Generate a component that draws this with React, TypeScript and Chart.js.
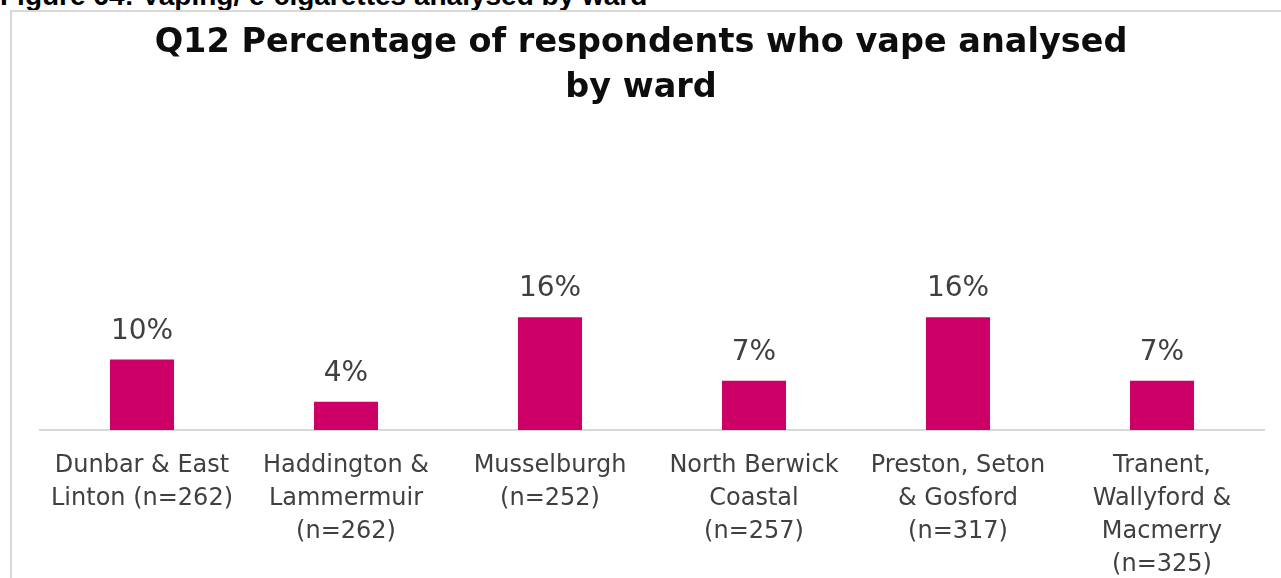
import React, { useEffect, useRef } from "react";
import { Chart, registerables } from "chart.js";

Chart.register(...registerables);

const categories: string[][] = [
  ["Dunbar & East", "Linton (n=262)"],
  ["Haddington &", "Lammermuir", "(n=262)"],
  ["Musselburgh", "(n=252)"],
  ["North Berwick", "Coastal", "(n=257)"],
  ["Preston, Seton", "& Gosford", "(n=317)"],
  ["Tranent,", "Wallyford &", "Macmerry", "(n=325)"],
];
const vapePercent: number[] = [10, 4, 16, 7, 16, 7];
const titleLines: string[] = ["Q12 Percentage of respondents who vape analysed", "by ward"];
const captionText = "Figure 64: Vaping/ e-cigarettes analysed by ward";

const FONT = "'DejaVu Sans', sans-serif";

const titlePlugin = {
  id: "customTitle",
  afterDraw(chart: any) {
    const ctx = chart.ctx;
    ctx.save();
    ctx.font = `bold 33.5px ${FONT}`;
    ctx.fillStyle = "#0d0d0d";
    ctx.textAlign = "center";
    ctx.textBaseline = "alphabetic";
    titleLines.forEach((line, i) => {
      ctx.fillText(line, 641, 52 + i * 45);
    });
    ctx.restore();
  },
};

const dataLabelPlugin = {
  id: "dataLabels",
  afterDatasetsDraw(chart: any) {
    const ctx = chart.ctx;
    const meta = chart.getDatasetMeta(0);
    const ds = chart.data.datasets[0];
    ctx.save();
    ctx.font = `28px ${FONT}`;
    ctx.fillStyle = "#404040";
    ctx.textAlign = "center";
    ctx.textBaseline = "alphabetic";
    meta.data.forEach((bar: any, i: number) => {
      ctx.fillText(`${ds.data[i]}%`, bar.x, bar.y - 21);
    });
    ctx.restore();
  },
};

export default function App() {
  const ref = useRef<HTMLCanvasElement>(null);
  useEffect(() => {
    if (!ref.current) return;
    const chart = new Chart(ref.current, {
      type: "bar",
      data: {
        labels: categories,
        datasets: [
          {
            data: vapePercent,
            backgroundColor: "#CC0066",
            categoryPercentage: 1,
            barPercentage: 0.314,
          },
        ],
      },
      options: {
        animation: false,
        responsive: false,
        layout: { padding: { left: 40, right: 17, top: 289, bottom: 0 } },
        plugins: {
          legend: { display: false },
          tooltip: { enabled: false },
          title: { display: false },
        },
        scales: {
          x: {
            grid: { display: false, drawTicks: false },
            border: { display: true, color: "#d9d9d9", width: 2 },
            ticks: {
              color: "#404040",
              font: { family: FONT, size: 24, lineHeight: 1.375 },
              padding: 19,
              maxRotation: 0,
              autoSkip: false,
            },
            afterFit: (s: any) => {
              s.height = 148;
            },
          },
          y: {
            display: false,
            min: 0,
            max: 20,
          },
        },
      },
      plugins: [dataLabelPlugin, titlePlugin],
    });
    return () => chart.destroy();
  }, []);

  return (
    <div
      style={{
        position: "absolute",
        left: 0,
        top: 0,
        width: 1281,
        height: 578,
        overflow: "hidden",
        background: "#fff",
      }}
    >
      <div
        style={{
          position: "absolute",
          left: 0,
          top: -18,
          font: "bold 28px 'Liberation Sans', Arial, sans-serif",
          lineHeight: "28px",
          color: "#000",
          whiteSpace: "nowrap",
        }}
      >
        {captionText}
      </div>
      <div
        style={{
          position: "absolute",
          left: 10,
          top: 10,
          width: 1300,
          height: 600,
          border: "2px solid #d9d9d9",
        }}
      />
      <canvas
        ref={ref}
        width={1281}
        height={578}
        style={{ position: "absolute", left: 0, top: 0, width: 1281, height: 578 }}
      />
    </div>
  );
}
